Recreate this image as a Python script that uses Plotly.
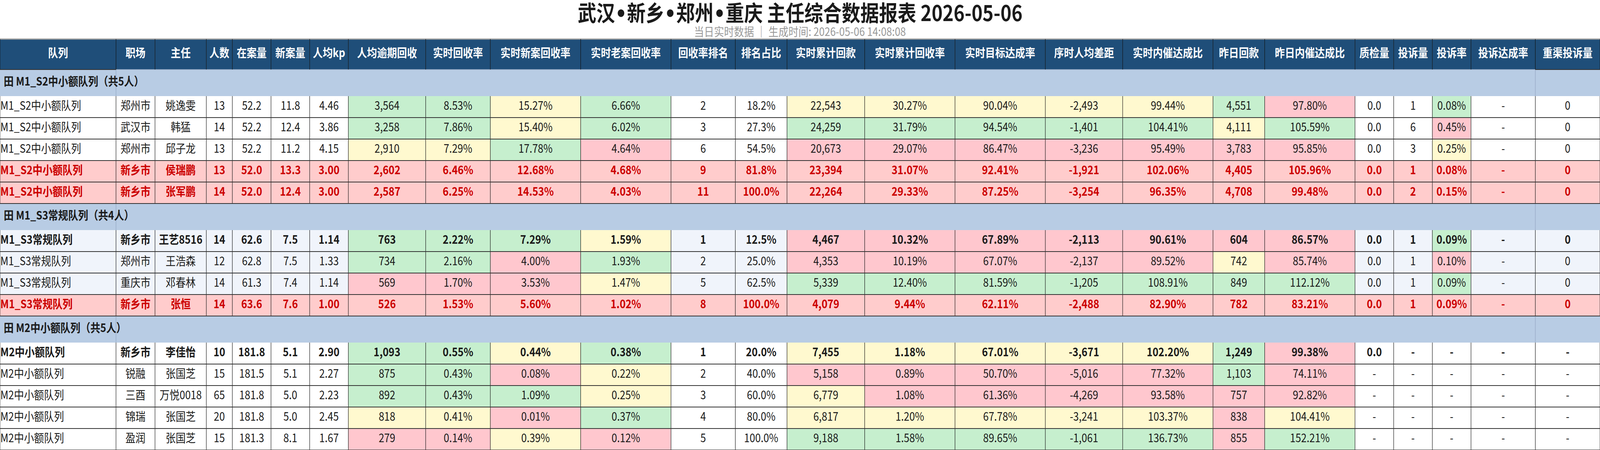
import plotly.graph_objects as go

TITLE_PARTS = ["武汉", "新乡", "郑州", "重庆 主任综合数据报表 2026-05-06"]
SUBTITLE = "当日实时数据 ｜ 生成时间: 2026-05-06 14:08:08"

HEADERS = ["队列", "职场", "主任", "人数", "在案量", "新案量", "人均kp", "人均逾期回收",
           "实时回收率", "实时新案回收率", "实时老案回收率", "回收率排名", "排名占比",
           "实时累计回款", "实时累计回收率", "实时目标达成率", "序时人均差距",
           "实时内催达成比", "昨日回款", "昨日内催达成比", "质检量", "投诉量", "投诉率",
           "投诉达成率", "重渠投诉量"]

GROUP_NAMES = ["M1_S2中小额队列", "M1_S3常规队列", "M2中小额队列"]
GROUP_SIZES = [5, 4, 5]

# row kind: n = normal, r = flagged (red), b = group lead (bold)
ROW_KIND = ["n", "n", "n", "r", "r", "b", "n", "n", "r", "b", "n", "n", "n", "n"]

queue = ["M1_S2中小额队列"] * 5 + ["M1_S3常规队列"] * 4 + ["M2中小额队列"] * 5
site = ["郑州市", "武汉市", "郑州市", "新乡市", "新乡市", "新乡市", "郑州市", "重庆市",
        "新乡市", "新乡市", "锐融", "三酉", "锦瑞", "盈润"]
director = ["姚逸雯", "韩猛", "邱子龙", "侯瑞鹏", "张军鹏", "王艺8516", "王浩森", "邓春林",
            "张恒", "李佳怡", "张国芝", "万悦0018", "张国芝", "张国芝"]
headcount = [13, 14, 13, 13, 14, 14, 12, 14, 14, 10, 15, 65, 20, 15]
cases = [52.2, 52.2, 52.2, 52.0, 52.0, 62.6, 62.8, 61.3, 63.6, 181.8, 181.5, 181.8, 181.8, 181.3]
new_cases = [11.8, 12.4, 11.2, 13.3, 12.4, 7.5, 7.5, 7.4, 7.6, 5.1, 5.1, 5.0, 5.0, 8.1]
kp = [4.46, 3.86, 4.15, 3.00, 3.00, 1.14, 1.33, 1.14, 1.00, 2.90, 2.27, 2.23, 2.45, 1.67]
overdue = [3564, 3258, 2910, 2602, 2587, 763, 734, 569, 526, 1093, 875, 892, 818, 279]
rate = [8.53, 7.86, 7.29, 6.46, 6.25, 2.22, 2.16, 1.70, 1.53, 0.55, 0.43, 0.43, 0.41, 0.14]
new_rate = [15.27, 15.40, 17.78, 12.68, 14.53, 7.29, 4.00, 3.53, 5.60, 0.44, 0.08, 1.09, 0.01, 0.39]
old_rate = [6.66, 6.02, 4.64, 4.68, 4.03, 1.59, 1.93, 1.47, 1.02, 0.38, 0.22, 0.25, 0.37, 0.12]
rank = [2, 3, 6, 9, 11, 1, 2, 5, 8, 1, 2, 3, 4, 5]
rank_pct = [18.2, 27.3, 54.5, 81.8, 100.0, 12.5, 25.0, 62.5, 100.0, 20.0, 40.0, 60.0, 80.0, 100.0]
cum = [22543, 24259, 20673, 23394, 22264, 4467, 4353, 5339, 4079, 7455, 5158, 6779, 6817, 9188]
cum_rate = [30.27, 31.79, 29.07, 31.07, 29.33, 10.32, 10.19, 12.40, 9.44, 1.18, 0.89, 1.08, 1.20, 1.58]
target = [90.04, 94.54, 86.47, 92.41, 87.25, 67.89, 67.07, 81.59, 62.11, 67.01, 50.70, 61.36, 67.78, 89.65]
gap = [-2493, -1401, -3236, -1921, -3254, -2113, -2137, -1205, -2488, -3671, -5016, -4269, -3241, -1061]
inner = [99.44, 104.41, 95.49, 102.06, 96.35, 90.61, 89.52, 108.91, 82.90, 102.20, 77.32, 93.58, 103.37, 136.73]
yday = [4551, 4111, 3783, 4405, 4708, 604, 742, 849, 782, 1249, 1103, 757, 838, 855]
yday_inner = [97.80, 105.59, 95.85, 105.96, 99.48, 86.57, 85.74, 112.12, 83.21, 99.38, 74.11, 92.82, 104.41, 152.21]
qc = [0.0] * 10 + [None] * 4
complaints = [1, 6, 3, 1, 2, 1, 1, 1, 1, None, None, None, None, None]
complaint_rate = [0.08, 0.45, 0.25, 0.08, 0.15, 0.09, 0.10, 0.09, 0.09, None, None, None, None, None]
complaint_target = [None] * 14
channel_complaints = [0, 0, 0, 0, 0, 0, 0, 0, 0, None, None, None, None, None]

# conditional levels per column (G good / Y middle / P bad / . none)
LEVELS = {
    7: "GGY..GGP.GGGYP",
    8: "GGY..GGP.GGGYP",
    9: "YYG..GPP.YPGPY",
    10: "GGP..YGY.GYYGP",
    13: "YGP..PPG.YPYYG",
    14: "YGP..PPG.YPPYG",
    15: "YGP..PPG.YPPYG",
    16: "YGP..PPG.YPPYG",
    17: "YGP..PPG.YPPYG",
    18: "GYP..PYG.GGPPP",
    19: "PGP..PPG.PPPYG",
    22: "GPY..GPG.......",
}


def txt(v):
    return v


def f_int(v):
    return f"{v:,}"


def f1(v):
    return f"{v:.1f}"


def f2(v):
    return f"{v:.2f}"


def p1(v):
    return f"{v:.1f}%"


def p2(v):
    return f"{v:.2f}%"


columns = [(queue, txt), (site, txt), (director, txt), (headcount, f_int), (cases, f1),
           (new_cases, f1), (kp, f2), (overdue, f_int), (rate, p2), (new_rate, p2),
           (old_rate, p2), (rank, f_int), (rank_pct, p1), (cum, f_int), (cum_rate, p2),
           (target, p2), (gap, f_int), (inner, p2), (yday, f_int), (yday_inner, p2),
           (qc, f1), (complaints, f_int), (complaint_rate, p2), (complaint_target, p2),
           (channel_complaints, f_int)]

# ---- style / layout ----
COL_W = [348, 117, 154, 78, 116, 116, 116, 232, 194, 271, 271, 193, 155, 233, 271, 271,
         232, 271, 155, 271, 116, 116, 116, 193, 194]
W, H = 4800, 1152
TOP, HEAD_H, GROUP_H, ROW_H = 100, 78, 68, 55
FONT = "Noto Sans CJK SC"
FS = 30
HEAD_BG = "#1f4e79"
GROUP_BG = "#b8cce4"
ALT_BG = "#f0f4fb"
RED_BG = "#ffcccc"
RED_TXT = "#cc0000"
LEVEL_BG = {"G": "#c6efce", "Y": "#fff9cf", "P": "#ffc7ce"}

xe = [0]
for w in COL_W:
    xe.append(xe[-1] + w)

shapes = []


def rect(x0, x1, y0, y1, color):
    shapes.append(dict(type="rect", xref="x", yref="y", x0=x0, x1=x1, y0=y0, y1=y1,
                       fillcolor=color, line=dict(width=0), layer="below"))


# header
for c in range(len(COL_W)):
    rect(xe[c], xe[c + 1], TOP, TOP + HEAD_H, HEAD_BG)

hx, hy, ht = [], [], []
for c, name in enumerate(HEADERS):
    hx.append((xe[c] + xe[c + 1]) / 2)
    hy.append(TOP + HEAD_H / 2)
    ht.append(f"<b>{name}</b>")

vlx, vly = [], []      # black vertical lines
hlx, hly = [], []      # dark horizontal lines
glx, gly = [], []      # light lines in group rows

for e in xe:
    vlx += [e, e, None]
    vly += [TOP, TOP + HEAD_H, None]

gx, gy, gt = [], [], []
dx, dy, dt, dcol, dpos = [], [], [], [], []

y = TOP + HEAD_H
r = 0
for g, (gname, gsize) in enumerate(zip(GROUP_NAMES, GROUP_SIZES)):
    rect(0, W, y, y + GROUP_H, GROUP_BG)
    gx.append(11)
    gy.append(y + GROUP_H / 2)
    gt.append(f"<b>田 {gname}（共{gsize}人）</b>")
    for e in (xe[1], xe[-2]):
        glx += [e, e, None]
        gly += [y, y + GROUP_H, None]
    glx += [xe[1], xe[-2], None]
    gly += [y, y, None]
    for a, b in ((0, xe[1]), (xe[-2], W)):
        hlx += [a, b, None]
        hly += [y, y, None]
    y += GROUP_H
    start = y
    base_bg = ALT_BG if g % 2 else "white"
    for k in range(gsize):
        kind = ROW_KIND[r]
        for c, (vals, fmt) in enumerate(columns):
            v = vals[r]
            if kind == "r":
                bg = RED_BG
            else:
                lv = LEVELS.get(c, "." * 14)[r]
                bg = LEVEL_BG.get(lv, base_bg)
            rect(xe[c], xe[c + 1], y, y + ROW_H, bg)
            s = "-" if v is None else fmt(v)
            if kind in ("r", "b"):
                s = f"<b>{s}</b>"
            if c == 0:
                dx.append(xe[c] + 1)
                dpos.append("middle right")
            else:
                dx.append((xe[c] + xe[c + 1]) / 2)
                dpos.append("middle center")
            dy.append(y + ROW_H / 2)
            dt.append(s)
            dcol.append(RED_TXT if kind == "r" else "#1a1a1a")
        y += ROW_H
        hlx += [0, W, None]
        hly += [y, y, None]
        r += 1
    for e in xe:
        vlx += [e, e, None]
        vly += [start, y, None]

# header border details
hlx += [0, xe[1], None, xe[-2], W, None]
hly += [TOP + HEAD_H, TOP + HEAD_H, None, TOP + HEAD_H, TOP + HEAD_H, None]

fig = go.Figure()
fig.add_trace(go.Scatter(x=[0, W], y=[TOP, TOP], mode="lines",
                         line=dict(color="#a0a0a0", width=3), hoverinfo="skip"))
fig.add_trace(go.Scatter(x=glx, y=gly, mode="lines",
                         line=dict(color="#97aac4", width=1.5), hoverinfo="skip"))
fig.add_trace(go.Scatter(x=vlx, y=vly, mode="lines",
                         line=dict(color="#111111", width=1.3), hoverinfo="skip"))
fig.add_trace(go.Scatter(x=hlx, y=hly, mode="lines",
                         line=dict(color="#333333", width=2.2), hoverinfo="skip"))
fig.add_trace(go.Scatter(x=hx, y=hy, text=ht, mode="text", textposition="middle center",
                         textfont=dict(family=FONT, size=FS, color="white"),
                         hoverinfo="skip"))
fig.add_trace(go.Scatter(x=gx, y=gy, text=gt, mode="text", textposition="middle right",
                         textfont=dict(family=FONT, size=FS, color="#1a1a1a"),
                         hoverinfo="skip"))
fig.add_trace(go.Scatter(x=dx, y=dy, text=dt, mode="text", textposition=dpos,
                         textfont=dict(family=FONT, size=FS, color=dcol),
                         hoverinfo="skip"))

dot = '<span style="font-family:DejaVu Sans">•</span>'
fig.add_annotation(x=W / 2, y=29, xref="x", yref="y",
                   text="<b>" + dot.join(TITLE_PARTS) + "</b>",
                   showarrow=False, font=dict(family=FONT, size=56, color="#1a1a1a"))
fig.add_annotation(x=W / 2, y=79, xref="x", yref="y", text=SUBTITLE,
                   showarrow=False, font=dict(family=FONT, size=30, color="#999999"))

fig.update_layout(
    width=W, height=H, margin=dict(l=0, r=0, t=0, b=0, pad=0),
    paper_bgcolor="white", plot_bgcolor="white", showlegend=False,
    shapes=shapes,
    xaxis=dict(range=[0, W], visible=False, fixedrange=True),
    yaxis=dict(range=[H, 0], visible=False, fixedrange=True),
)

# fit the fixed-size figure to whatever viewport the page is opened in
fit_script = """
var gd = document.getElementById('{plot_id}');
document.documentElement.style.overflow = 'hidden';
document.body.style.margin = '0';
document.body.style.overflow = 'hidden';
var kx = window.innerWidth / 4800, ky = window.innerHeight / 1152;
gd.style.transformOrigin = '0 0';
gd.style.transform = 'scale(' + kx + ',' + ky + ')';
"""

fig.write_html("out.html", post_script=fit_script,
               config={"displayModeBar": False, "staticPlot": True})
